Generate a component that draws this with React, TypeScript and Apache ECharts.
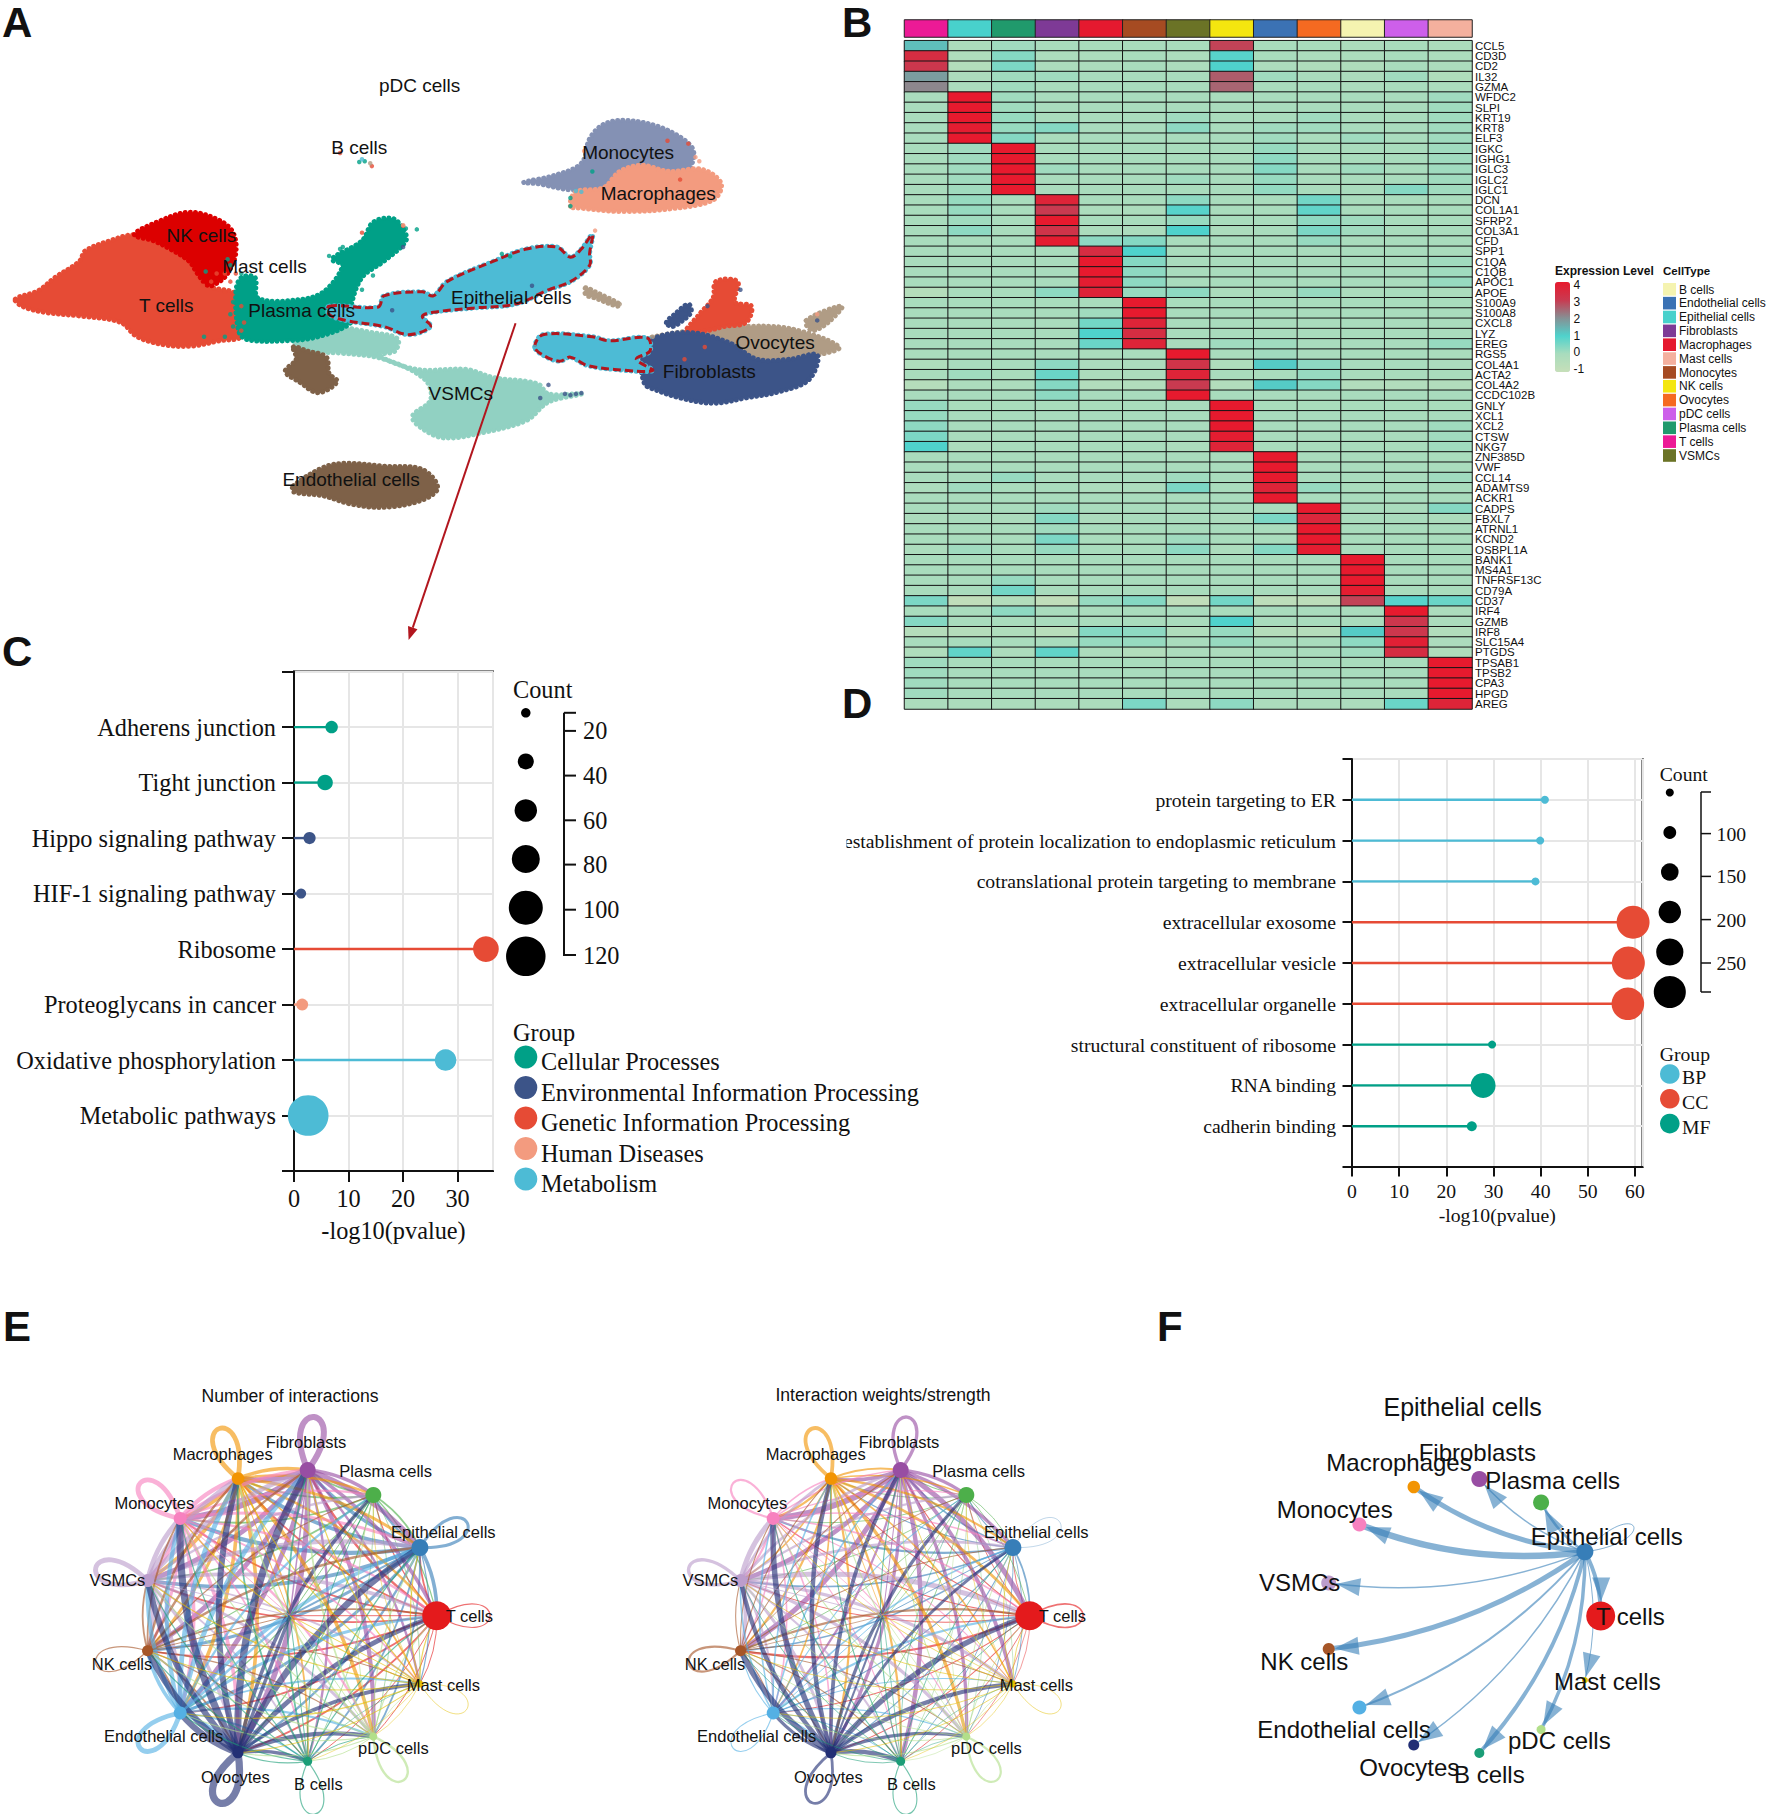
import React, { useEffect, useRef } from "react";
import * as echarts from "echarts";

const SANS = "'Liberation Sans', Arial, sans-serif";
const SERIF = "'Liberation Serif', 'Times New Roman', serif";

/* ---------- Panel A: UMAP clusters, outlines ---------- */
type P = [number, number];
const umapTCells: P[] = [[28,733],[70,712],[100,680],[145,640],[155,615],[200,590],[245,575],[290,590],[330,620],[365,660],[380,700],[430,720],[445,780],[440,825],[400,835],[350,848],[300,845],[250,825],[220,790],[150,775],[80,765],[40,750]];
const umapNK: P[] = [[245,575],[285,545],[345,520],[400,540],[425,570],[430,620],[415,670],[400,690],[380,700],[360,670],[345,640],[310,610],[280,590]];
const umapPlasma: P[] = [[430,715],[440,680],[465,680],[470,730],[540,735],[590,715],[625,650],[605,635],[660,590],[680,545],[715,535],[735,560],[740,590],[700,640],[660,680],[640,750],[640,790],[580,825],[520,835],[450,832],[435,810]];
const umapVSMC: P[] = [[540,810],[600,800],[680,815],[725,830],[720,860],[690,870],[760,905],[850,905],[900,925],[980,940],[1000,965],[1060,965],[1000,985],[960,1030],[880,1060],[810,1073],[770,1050],[752,1020],[785,980],[775,930],[700,880],[620,865],[560,860],[535,835]];
const umapBrownSmall: P[] = [[535,850],[560,860],[595,875],[600,915],[615,935],[580,962],[545,935],[520,910],[540,880]];
const umapEndothelial: P[] = [[535,1190],[590,1145],[630,1135],[700,1142],[770,1150],[798,1195],[770,1225],[700,1243],[640,1235],[590,1215],[535,1205]];
const umapMono: P[] = [[955,447],[1010,430],[1060,400],[1075,340],[1100,305],[1140,295],[1200,310],[1250,345],[1265,375],[1250,420],[1130,430],[1090,460],[1040,465],[980,450]];
const umapMacro: P[] = [[1040,505],[1050,470],[1100,460],[1130,420],[1170,405],[1220,420],[1280,415],[1315,450],[1300,490],[1220,512],[1130,518],[1060,510]];
const umapEpiMain: P[] = [[600,750],[690,752],[700,725],[770,715],[790,725],[815,690],[900,640],[960,610],[1015,605],[1040,630],[1060,610],[1080,575],[1075,620],[1075,650],[1040,690],[1000,710],[940,745],[860,755],[790,765],[770,775],[785,800],[745,820],[700,800],[630,785],[600,770]];
const umapEpiRight: P[] = [[975,850],[990,820],[1080,825],[1110,835],[1180,828],[1185,860],[1160,880],[1190,908],[1120,905],[1070,895],[1040,875],[1020,885],[990,870]];
const umapFibro: P[] = [[1170,870],[1190,830],[1260,815],[1330,840],[1380,880],[1440,880],[1490,870],[1475,930],[1420,960],[1360,975],[1300,988],[1240,975],[1195,955],[1175,940]];
const umapFibroTop: P[] = [[1215,790],[1230,770],[1255,745],[1260,765],[1240,790],[1225,800]];
const umapOvo: P[] = [[1180,830],[1260,810],[1350,800],[1440,805],[1530,850],[1490,870],[1430,880],[1380,878],[1330,845],[1270,820],[1200,840]];
const umapOvoTail: P[] = [[1470,785],[1535,750],[1510,790],[1480,810]];
const umapOvoLeft: P[] = [[1068,705],[1085,715],[1130,745],[1125,750],[1085,730],[1068,722]];
const umapTTop: P[] = [[1250,815],[1275,770],[1300,730],[1305,690],[1345,690],[1340,740],[1370,750],[1360,790],[1320,800],[1290,810]];
const strayPlasma: P[] = [[620,610],[640,615],[600,627],[625,605],[650,600],[740,560],[760,562],[665,395],[655,397],[915,622],[930,628],[1040,485],[1040,505],[1080,420],[680,675],[660,710],[420,650],[440,670],[450,685],[375,665],[415,635],[425,740],[420,770],[425,800],[410,825],[372,825]];
const strayT: P[] = [[620,375],[678,407],[1217,345],[1255,352],[660,570],[735,553],[1240,440],[1248,880],[1285,850],[370,700],[385,690],[395,670],[410,670],[420,690],[410,715],[430,670],[440,750],[445,790],[440,810]];
const strayFibro: P[] = [[735,605],[970,700],[1000,943],[985,975],[1030,965],[1060,963],[1050,965],[1040,968],[1235,775],[1225,785],[1250,760],[1290,750],[1350,710],[1490,785],[715,760]];
const strayOvo: P[] = [[1130,745],[675,400],[1190,825]];
const strayMacro: P[] = [[1085,565],[1065,370],[1268,385],[1275,395],[735,552],[1490,770]];
const strayEpi: P[] = [[1060,470],[1050,468],[975,850],[660,390]];
const arrowA: P[] = [[940,792],[745,1568]];
const umapLabels: [string, number, number][] = [["pDC cells",765,210],["B cells",655,362],["Monocytes",1145,373],["Macrophages",1200,473],["NK cells",367,577],["Mast cells",482,654],["T cells",303,748],["Plasma cells",550,760],["Epithelial cells",932,728],["Ovocytes",1413,838],["Fibroblasts",1293,910],["VSMCs",840,965],["Endothelial cells",640,1174]];

/* ---------- Panel B: heatmap ---------- */
const heatCols = ["T cells","Epithelial cells","Plasma cells","Fibroblasts","Macrophages","Monocytes","VSMCs","NK cells","Endothelial cells","Ovocytes","B cells","pDC cells","Mast cells"];
const heatColColors = ["#EC1A96","#48D1CC","#209A6C","#7E3A96","#E5192F","#A64B22","#6B7326","#F4E60F","#3B72B4","#F56A21","#F5F3B0","#CD5FEA","#F4B09E"];
const genes = ["CCL5","CD3D","CD2","IL32","GZMA","WFDC2","SLPI","KRT19","KRT8","ELF3","IGKC","IGHG1","IGLC3","IGLC2","IGLC1","DCN","COL1A1","SFRP2","COL3A1","CFD","SPP1","C1QA","C1QB","APOC1","APOE","S100A9","S100A8","CXCL8","LYZ","EREG","RGS5","COL4A1","ACTA2","COL4A2","CCDC102B","GNLY","XCL1","XCL2","CTSW","NKG7","ZNF385D","VWF","CCL14","ADAMTS9","ACKR1","CADPS","FBXL7","ATRNL1","KCND2","OSBPL1A","BANK1","MS4A1","TNFRSF13C","CD79A","CD37","IRF4","GZMB","IRF8","SLC15A4","PTGDS","TPSAB1","TPSB2","CPA3","HPGD","AREG"];
const expression: number[][] = [
[1.3,-.1,.1,0,0,0,0,2.9,0,0,-.1,0,-.1],
[3.4,-.2,.4,-.1,-.1,0,-.1,.9,0,-.1,-.1,0,-.1],
[3.1,-.3,.5,-.1,-.1,0,-.1,1,-.1,-.2,-.2,0,-.1],
[1.8,-.1,.1,.1,0,0,0,2.6,.1,0,-.1,.1,-.2],
[2.1,-.1,.1,0,0,0,0,2.5,0,0,-.1,0,-.1],
[0,4,.1,0,0,0,0,0,0,0,0,0,.1],
[0,4,.1,0,0,0,0,0,0,0,0,0,.1],
[0,4,.2,0,0,0,.1,0,0,.1,0,0,.1],
[0,3.9,.2,.4,0,0,.3,0,.1,.1,0,0,.1],
[0,4,.4,0,0,0,0,0,.1,0,.1,0,.1],
[0,.1,4,0,0,0,0,0,.2,0,0,0,.1],
[0,.1,4,0,0,0,0,0,.3,0,0,0,.1],
[0,.1,4,.1,0,0,0,0,.4,0,.1,0,.1],
[0,.1,4,0,0,0,.1,0,.2,0,0,0,.1],
[0,.1,4,0,0,0,0,0,.25,0,0,.4,.1],
[0,.2,0,3.7,0,0,.3,0,0,.6,0,0,0],
[0,.2,0,3,-.1,-.1,.9,0,0,.8,0,0,0],
[0,.1,0,4,0,0,.2,0,0,.3,.1,0,0],
[0,.3,0,3.2,-.1,-.1,1,-.1,0,.5,.1,0,0],
[0,0,0,3.9,.3,.4,0,0,0,.2,0,0,0],
[0,0,0,0,3.4,1,0,0,0,0,0,0,0],
[0,0,0,0,4,.4,0,0,0,0,0,0,.1],
[0,0,0,0,4,.3,0,0,0,0,0,0,.1],
[0,0,0,0,3.9,.3,0,0,0,0,0,0,.2],
[-.4,0,0,.3,3.7,.2,.3,-.1,0,.2,-.1,0,-.1],
[0,0,0,0,0,4,0,0,0,0,0,0,0],
[0,0,0,0,.1,4,0,0,0,0,0,0,0],
[0,0,0,0,.6,3.7,0,0,0,0,0,0,0],
[0,0,0,0,1,3.4,0,0,0,0,0,0,0],
[0,0,0,0,.7,3.7,0,.1,.1,0,0,0,.2],
[0,0,0,0,0,0,4,0,.1,0,0,0,0],
[-.2,0,0,.3,-.1,-.1,3.2,-.2,1.1,.3,0,0,-.1],
[0,.1,0,.7,-.1,-.1,3.7,0,0,.2,0,0,0],
[-.4,-.1,-.1,.4,-.3,-.3,3,-.3,1.1,.4,-.3,-.3,-.3],
[0,0,0,.3,0,0,4,0,0,0,0,0,0],
[.2,0,0,0,0,0,0,4,0,0,0,0,0],
[.2,0,0,0,0,0,0,4,0,0,0,0,0],
[.3,0,0,0,0,0,0,4,0,0,0,0,.1],
[.5,0,0,0,0,0,0,3.9,0,0,0,0,.1],
[1,-.1,0,0,0,0,-.1,3.7,0,0,0,0,.1],
[0,0,0,0,0,0,0,0,4,0,0,0,0],
[0,0,0,0,0,0,0,0,4,0,0,0,0],
[0,0,.2,0,0,0,.1,0,4,0,0,0,.1],
[-.1,.1,0,0,-.1,-.1,.5,0,3.7,.2,0,0,0],
[0,0,0,0,0,0,0,0,4,0,0,0,0],
[0,0,0,.1,0,0,0,0,0,4,0,0,.4],
[-.1,0,-.1,.4,-.1,0,0,-.1,.5,3.6,0,0,-.1],
[0,0,0,.1,0,0,0,0,0,4,0,0,0],
[0,0,0,.5,0,0,.1,0,0,4,0,0,0],
[-.1,.1,0,.2,0,0,.3,-.1,.4,3.9,0,0,0],
[0,0,0,0,0,0,0,0,0,0,4,0,0],
[0,0,0,0,0,0,0,0,0,0,4,0,0],
[0,0,.2,0,0,0,0,0,0,0,4,0,0],
[0,0,.6,0,0,0,0,0,0,0,3.9,0,0],
[.5,-.8,-.3,-.8,.2,.4,-.8,.6,-.7,-.7,2.9,.9,.7],
[0,0,.3,0,0,0,0,0,0,0,0,4,-.1],
[.4,0,0,0,0,0,0,1,0,0,0,3.1,-.1],
[-.4,-.4,-.2,-.5,.4,.3,-.2,.2,-.4,-.4,1.1,3.1,-.3],
[0,0,0,0,.2,.2,0,.2,0,0,.3,3.8,-.1],
[-.2,.8,-.1,.8,-.1,-.3,-.1,-.1,0,0,.1,3.4,-.2],
[.1,0,0,0,0,0,0,0,0,0,0,0,4],
[.1,0,0,0,0,0,0,0,0,0,0,0,4],
[.1,0,0,0,0,0,0,0,0,0,0,0,4],
[.1,0,0,0,0,0,0,0,0,0,0,0,4],
[-.1,-.1,-.1,-.1,-.1,.5,-.1,.3,-.1,-.1,-.1,.7,3.7],
];
const expressionTicks = [4,3,2,1,0,-1];
const heatStops = ["#C6DFB9","#A9DCBD","#4FD2CC","#869094","#C93A50","#E71A2E"];
const cellTypeLegend = ["B cells","Endothelial cells","Epithelial cells","Fibroblasts","Macrophages","Mast cells","Monocytes","NK cells","Ovocytes","pDC cells","Plasma cells","T cells","VSMCs"];
const cellTypeColors = ["#F5F3B0","#3B72B4","#48D1CC","#7E3A96","#E5192F","#F4B09E","#A64B22","#F4E60F","#F56A21","#CD5FEA","#209A6C","#EC1A96","#6B7326"];

/* ---------- Panel C ---------- */
const cNames = ["Adherens junction","Tight junction","Hippo signaling pathway","HIF-1 signaling pathway","Ribosome","Proteoglycans in cancer","Oxidative phosphorylation","Metabolic pathways"];
const cValues = [6.9,5.7,2.85,1.3,35.2,1.5,27.8,2.6];
const cCounts = [30,40,29,22,74,28,60,124];
const cGroupOf = [0,0,1,1,2,3,4,4];
const cGroups = ["Cellular Processes","Environmental Information Processing","Genetic Information Processing","Human Diseases","Metabolism"];
const cGroupColors = ["#00A087","#3C5488","#E64B35","#F39B7F","#4DBBD5"];
const cCountTicks = [20,40,60,80,100,120];

/* ---------- Panel D ---------- */
const dNames = ["protein targeting to ER","establishment of protein localization to endoplasmic reticulum","cotranslational protein targeting to membrane","extracellular exosome","extracellular vesicle","extracellular organelle","structural constituent of ribosome","RNA binding","cadherin binding"];
const dValues = [40.9,39.9,38.9,59.6,58.6,58.5,29.7,27.8,25.4];
const dCounts = [52,52,52,292,292,288,52,215,71];
const dGroupOf = [0,0,0,1,1,1,2,2,2];
const dGroups = ["BP","CC","MF"];
const dGroupColors = ["#4DBBD5","#E64B35","#00A087"];
const dCountTicks = [100,150,200,250];
const dLegendCounts = [52,98,144,191,237,283];

/* ---------- Panels E, F ---------- */
const netNames = ["T cells","Epithelial cells","Plasma cells","Fibroblasts","Macrophages","Monocytes","VSMCs","NK cells","Endothelial cells","Ovocytes","B cells","pDC cells","Mast cells"];
const netColors = ["#E41A1C","#377EB8","#4DAF4A","#984EA3","#F29403","#F781BF","#BC9DCC","#A65628","#54B0E4","#222F75","#1B9E77","#B2DF8A","#E3BE00"];
const netSizesE = [29,17,16,16,12.5,13,13,11,13,11,9,8,7];
const netSizesF = [29,17,16,16,12.5,14,15,12,14,11,10,9,6];
const interactionCounts: number[][] = [
[1.2,1.8,1.2,2.4,1.8,1.8,1.8,1.8,1.8,1.8,1,1,1],
[3.6,3,2.4,3.6,3.6,4.2,3.6,3,3,2.4,1.8,1.8,1.2],
[1.2,1.8,0,1.8,1.8,1.8,1.8,1.2,1.2,1.2,.7,.7,.7],
[3.6,4.8,3.6,6,5.4,6,4.8,4.8,4.8,5.4,2.4,4.2,2.4],
[2.4,3,2.4,3.6,4.8,3.6,3.6,3,3.6,3.6,1.8,3.6,1.8],
[2.4,3,2.4,3.6,4.2,4.8,3.6,3,3.6,3.6,1.8,2.4,1.8],
[3.6,4.2,2.4,4.8,4.8,4.8,4.8,3.6,3.6,3.6,1.8,3,1.8],
[1.8,2.4,1.2,2.4,2.4,1.8,1.8,1.2,1.8,1.8,1.2,1.2,1],
[3,3.6,2.4,4.8,4.8,4.2,4.2,3.6,4.8,3.6,1.8,2.4,1.8],
[4.8,6.6,3.6,7.2,6,7.2,6,6,6,7.2,3.6,4.2,3.6],
[1.2,1.2,1,1.8,1.8,1.2,1.2,1.2,1.2,1.2,1.2,1,.7],
[1.2,1.2,1,1.8,1.8,1.2,1.2,1.2,1.2,1.2,1,2.4,.7],
[1.2,1.2,.7,1.2,1.2,1.2,1.2,1.2,1.2,1.2,.7,.7,.8],
];
const interactionWeights: number[][] = [
[1.6,.9,.9,1.1,1.1,1.1,1.1,2.2,1.1,1.1,.9,.7,.7],
[1.6,.5,1.1,1.6,1.1,2.2,1.6,1.6,1.1,1.1,.9,.9,.9],
[.9,.9,0,1.1,.9,.9,.9,.9,.7,.9,.5,.5,.5],
[5,3.3,3.3,3.3,3.8,6,4.4,5,2.2,3.3,4.4,3.3,3.8],
[2.8,2.2,1.6,2.2,3.8,2.2,1.6,2.2,1.6,2.2,2.2,3.3,1.6],
[1.6,1.6,1.1,1.6,1.6,2.2,2.2,1.6,1.6,1.6,1.1,1.1,1.1],
[5,2.8,2.2,2.8,2.8,5,3.3,3.8,2.2,2.8,2.2,3.3,3.3],
[2.2,1.1,.9,1.1,1.1,1.1,1.1,2.2,1.1,1.1,1.1,1.1,1.1],
[2.2,1.6,1.1,1.6,1.6,1.6,1.6,1.1,1.1,1.6,1.1,1.1,1.1],
[5.5,2.8,3.3,3.8,4.4,5.5,4.4,5.5,3.3,2.8,4.4,3.3,4.4],
[.9,.9,.7,1.1,1.1,1.1,.9,.9,.9,.9,1.1,.7,.7],
[.9,.9,.7,1.1,1.1,1.1,.9,.9,.9,1.1,.7,2.2,.7],
[.9,.9,.7,.9,.9,.9,.9,.9,.9,.9,.7,.7,.8],
];
const hubCounts = [1,2,1,1.5,1,1,1,1,2.5,3.5,1,1,1];
const hubWeights = [1,1,.8,1,.8,.8,1,.8,1,2,.8,.8,.8];
const epithelialOut = [4,1,2.5,1.5,5,6.5,1.5,5,2,1.5,4,3.5,1];

/* ---------- helpers ---------- */
const unit = (i: number): P => [Math.cos((i * 2 * Math.PI) / 13), Math.sin((i * 2 * Math.PI) / 13)];

const txt = (text: string, x: number, y: number, size: number, family = SANS, align = "center", weight = "normal", fill = "#111") => ({
  type: "text", x, y, z: 100, silent: true,
  style: { text, fontSize: size, fontFamily: family, fontWeight: weight, fill, align, verticalAlign: "middle", textAlign: align, textVerticalAlign: "middle" },
});
const seg = (x1: number, y1: number, x2: number, y2: number, w = 2) => ({
  type: "line", z: 100, silent: true, shape: { x1, y1, x2, y2 }, style: { stroke: "#111", lineWidth: w },
});
const dot = (cx: number, cy: number, d: number, fill: string) => ({
  type: "circle", z: 100, silent: true, shape: { cx, cy, r: d / 2 }, style: { fill },
});

const blob = (pts: P[], color: string) => ({
  type: "custom", coordinateSystem: "cartesian2d", xAxisIndex: 0, yAxisIndex: 0, silent: true,
  data: pts, encode: { x: 0, y: 1 },
  renderItem: (p: any, api: any) =>
    p.dataIndex !== 0 ? null : {
      type: "polygon",
      shape: { points: pts.map((v) => api.coord(v)), smooth: 0.35 },
      style: { fill: color, stroke: color, lineWidth: 5, lineDash: [0.1, 5], lineCap: "round" },
    },
});
const dashOutline = (pts: P[]) => ({
  type: "custom", coordinateSystem: "cartesian2d", xAxisIndex: 0, yAxisIndex: 0, silent: true,
  data: pts, encode: { x: 0, y: 1 },
  renderItem: (p: any, api: any) =>
    p.dataIndex !== 0 ? null : {
      type: "polygon",
      shape: { points: pts.map((v) => api.coord(v)), smooth: 0.35 },
      style: { fill: "none", stroke: "#B2161E", lineWidth: 3, lineDash: [8, 4] },
    },
});
const strays = (pts: P[], color: string) => ({
  type: "scatter", xAxisIndex: 0, yAxisIndex: 0, data: pts, symbolSize: 4.5, silent: true, itemStyle: { color },
});

const hiddenVal = (gridIndex: number, min: number, max: number, inverse = false) => ({ type: "value", gridIndex, min, max, inverse, show: false });

function edgeSeries(gridIdx: number, matrix: number[][], hub: number[], loopLen: number) {
  const data: number[][] = [];
  matrix.forEach((row, i) => row.forEach((w, j) => { if (w > 0) data.push([i, j, w]); }));
  hub.forEach((w, i) => data.push([i, -1, w]));
  return {
    type: "custom", coordinateSystem: "cartesian2d", xAxisIndex: gridIdx, yAxisIndex: gridIdx, silent: true, data, z: 2,
    renderItem: (_p: any, api: any) => {
      const i = api.value(0), j = api.value(1), w = api.value(2);
      const a = api.coord(unit(i));
      const style = { stroke: netColors[i], fill: "none", lineWidth: w, opacity: 0.62 };
      if (j < 0) {
        const c = api.coord([0, 0]);
        return { type: "line", shape: { x1: a[0], y1: a[1], x2: c[0], y2: c[1] }, style };
      }
      if (i === j) {
        const c = api.coord([0, 0]);
        const ang = Math.atan2(a[1] - c[1], a[0] - c[0]);
        return {
          type: "bezierCurve",
          shape: {
            x1: a[0], y1: a[1], x2: a[0], y2: a[1],
            cpx1: a[0] + loopLen * Math.cos(ang - 0.52), cpy1: a[1] + loopLen * Math.sin(ang - 0.52),
            cpx2: a[0] + loopLen * Math.cos(ang + 0.52), cpy2: a[1] + loopLen * Math.sin(ang + 0.52),
          },
          style,
        };
      }
      const b = api.coord(unit(j));
      const dx = b[0] - a[0], dy = b[1] - a[1];
      const mx = (a[0] + b[0]) / 2 + dy * 0.14, my = (a[1] + b[1]) / 2 - dx * 0.14;
      return { type: "bezierCurve", shape: { x1: a[0], y1: a[1], x2: b[0], y2: b[1], cpx1: mx, cpy1: my }, style };
    },
  };
}
function nodeSeries(gridIdx: number, sizes: number[]) {
  return {
    type: "scatter", xAxisIndex: gridIdx, yAxisIndex: gridIdx, silent: true, z: 5,
    symbolSize: (v: number[]) => v[2],
    data: netNames.map((n, i) => ({ name: n, value: [...unit(i), sizes[i]], itemStyle: { color: netColors[i], opacity: 1 } })),
  };
}
function outSeries(gridIdx: number) {
  const from = 1, col = "#377EB8";
  return {
    type: "custom", coordinateSystem: "cartesian2d", xAxisIndex: gridIdx, yAxisIndex: gridIdx, silent: true, z: 3,
    data: epithelialOut.map((w, j) => [j, w]),
    renderItem: (_p: any, api: any) => {
      const j = api.value(0), w = api.value(1);
      const a = api.coord(unit(from));
      const style = { stroke: col, fill: "none", lineWidth: w, opacity: 0.6 };
      if (j === from) {
        const c = api.coord([0, 0]);
        const ang = Math.atan2(a[1] - c[1], a[0] - c[0]);
        return {
          type: "bezierCurve",
          shape: {
            x1: a[0], y1: a[1], x2: a[0], y2: a[1],
            cpx1: a[0] + 78 * Math.cos(ang - 0.35), cpy1: a[1] + 78 * Math.sin(ang - 0.35),
            cpx2: a[0] + 78 * Math.cos(ang + 0.35), cpy2: a[1] + 78 * Math.sin(ang + 0.35),
          },
          style,
        };
      }
      const b = api.coord(unit(j));
      const dx = b[0] - a[0], dy = b[1] - a[1];
      const cx = (a[0] + b[0]) / 2 + dy * 0.13, cy = (a[1] + b[1]) / 2 - dx * 0.13;
      const tx = b[0] - cx, ty = b[1] - cy, tl = Math.hypot(tx, ty);
      const ux = tx / tl, uy = ty / tl;
      const r = netSizesF[j] / 2;
      const tip = [b[0] - ux * r, b[1] - uy * r];
      const base = [tip[0] - ux * 24, tip[1] - uy * 24];
      return {
        type: "group",
        children: [
          { type: "bezierCurve", shape: { x1: a[0], y1: a[1], x2: b[0], y2: b[1], cpx1: cx, cpy1: cy }, style },
          { type: "polygon", shape: { points: [tip, [base[0] - uy * 9, base[1] + ux * 9], [base[0] + uy * 9, base[1] - ux * 9]] }, style: { fill: col, opacity: 0.6 } },
        ],
      };
    },
  };
}

function lollipop(gridIdx: number, names: string[], vals: number[], counts: number[], groupOf: number[], colors: string[], sizeFn: (c: number) => number) {
  return [
    {
      type: "bar", xAxisIndex: gridIdx, yAxisIndex: gridIdx, barWidth: 2.4, silent: true, z: 3,
      data: [null, ...vals.map((v, i) => ({ value: v, itemStyle: { color: colors[groupOf[i]] } })), null],
    },
    {
      type: "scatter", xAxisIndex: gridIdx, yAxisIndex: gridIdx, silent: true, z: 4, clip: false,
      symbolSize: (v: number[]) => sizeFn(v[2]),
      data: vals.map((v, i) => ({ value: [v, i + 1, counts[i]], itemStyle: { color: colors[groupOf[i]], opacity: 1 } })),
    },
  ];
}
const catAxis = (gridIndex: number, names: string[], font: number, tick: number, margin: number) => ({
  type: "category", gridIndex, data: ["", ...names, ""], inverse: true, boundaryGap: false,
  axisLine: { onZero: false, lineStyle: { color: "#111", width: 2 } },
  axisTick: { show: true, interval: 0, length: tick, lineStyle: { color: "#111", width: 2 } },
  axisLabel: { interval: 0, fontFamily: SERIF, fontSize: font, color: "#111", margin, hideOverlap: false },
  splitLine: { show: true, interval: 0, lineStyle: { color: "#E6E6E6", width: 2 } },
});
const valAxis = (gridIndex: number, max: number, font: number, tick: number, margin: number, nameGap: number) => ({
  type: "value", gridIndex, min: 0, max, interval: 10,
  name: "-log10(pvalue)", nameLocation: "middle", nameGap,
  nameTextStyle: { fontFamily: SERIF, fontSize: font, color: "#111" },
  axisLine: { show: true, onZero: false, lineStyle: { color: "#111", width: 2 } },
  axisTick: { show: true, length: tick, lineStyle: { color: "#111", width: 2 } },
  axisLabel: { fontFamily: SERIF, fontSize: font, color: "#111", margin, showMaxLabel: false },
  splitLine: { show: true, lineStyle: { color: "#E6E6E6", width: 2 } },
});

function buildOption(): any {
  const heatData: any[] = [];
  expression.forEach((row, y) => row.forEach((v, x) => heatData.push([x, y, v])));
  const barData = heatCols.map((_, x) => [x, 0, x]);

  const grids = [
    { left: 0, top: 0, width: 860, height: 640 },
    { left: 904.5, top: 20, width: 567.5, height: 17 },
    { left: 904.5, top: 40.7, width: 567.5, height: 668.3 },
    { left: 294, top: 671.6, width: 199, height: 499.4, show: true, borderColor: "#111", borderWidth: 2 },
    { left: 1352, top: 759, width: 290.5, height: 408, show: true, borderColor: "#111", borderWidth: 2 },
    { left: 290 - 146.7, top: 1615.7 - 146.7, width: 293.4, height: 293.4 },
    { left: 883 - 146.7, top: 1615.7 - 146.7, width: 293.4, height: 293.4 },
    { left: 1462.7 - 138, top: 1616 - 138, width: 276, height: 276 },
  ];
  const xAxis = [
    hiddenVal(0, 0, 1568),
    { type: "category", gridIndex: 1, data: heatCols, show: false },
    { type: "category", gridIndex: 2, data: heatCols, show: false },
    valAxis(3, 36.5, 24.3, 11, 15, 47),
    valAxis(4, 61.6, 19.7, 9.5, 13.7, 38),
    hiddenVal(5, -1, 1),
    hiddenVal(6, -1, 1),
    hiddenVal(7, -1, 1),
  ];
  const yAxis = [
    hiddenVal(0, 0, 1568, true),
    { type: "category", gridIndex: 1, data: ["CellType"], show: false },
    {
      type: "category", gridIndex: 2, data: genes, inverse: true, position: "right",
      axisLine: { show: false }, axisTick: { show: false },
      axisLabel: { interval: 0, fontSize: 11.5, fontFamily: SANS, color: "#111", margin: 3 },
    },
    catAxis(3, cNames, 24.3, 12, 18),
    catAxis(4, dNames, 19.7, 9.5, 16),
    hiddenVal(5, -1, 1),
    hiddenVal(6, -1, 1),
    hiddenVal(7, -1, 1),
  ];

  const series: any[] = [
    blob(umapVSMC, "#91D1C2"),
    blob(umapBrownSmall, "#7E6148"),
    blob(umapTCells, "#E64B35"),
    blob(umapNK, "#DC0000"),
    blob(umapPlasma, "#00A087"),
    blob(umapEndothelial, "#7E6148"),
    blob(umapMono, "#8491B4"),
    blob(umapMacro, "#F39B7F"),
    blob(umapOvo, "#B09C85"),
    blob(umapOvoTail, "#B09C85"),
    blob(umapOvoLeft, "#B09C85"),
    blob(umapTTop, "#E64B35"),
    blob(umapFibroTop, "#3C5488"),
    blob(umapFibro, "#3C5488"),
    blob(umapEpiMain, "#4DBBD5"),
    blob(umapEpiRight, "#4DBBD5"),
    strays(strayPlasma, "#00A087"),
    strays(strayT, "#E64B35"),
    strays(strayFibro, "#3C5488"),
    strays(strayOvo, "#B09C85"),
    strays(strayMacro, "#F39B7F"),
    strays(strayEpi, "#4DBBD5"),
    dashOutline(umapEpiMain),
    dashOutline(umapEpiRight),
    {
      type: "custom", coordinateSystem: "cartesian2d", xAxisIndex: 0, yAxisIndex: 0, silent: true, z: 6,
      data: arrowA, encode: { x: 0, y: 1 },
      renderItem: (p: any, api: any) => {
        if (p.dataIndex !== 0) return null;
        const a = api.coord(arrowA[0]), b = api.coord(arrowA[1]);
        const l = Math.hypot(b[0] - a[0], b[1] - a[1]);
        const ux = (b[0] - a[0]) / l, uy = (b[1] - a[1]) / l;
        const bx = b[0] - ux * 13, by = b[1] - uy * 13;
        return {
          type: "group",
          children: [
            { type: "line", shape: { x1: a[0], y1: a[1], x2: bx, y2: by }, style: { stroke: "#B2161E", lineWidth: 2 } },
            { type: "polygon", shape: { points: [b, [bx - uy * 5, by + ux * 5], [bx + uy * 5, by - ux * 5]] }, style: { fill: "#B2161E" } },
          ],
        };
      },
    },
  ];
  const barIndex = series.length;
  series.push({
    type: "heatmap", xAxisIndex: 1, yAxisIndex: 1, data: barData, silent: true,
    itemStyle: { borderColor: "#222", borderWidth: 1 },
  });
  const heatIndex = series.length;
  series.push({
    type: "heatmap", xAxisIndex: 2, yAxisIndex: 2, data: heatData, silent: true,
    itemStyle: { borderColor: "#151515", borderWidth: 1 },
  });
  series.push(...lollipop(3, cNames, cValues, cCounts, cGroupOf, cGroupColors, (c) => 3.5 + 0.3 * c));
  series.push(...lollipop(4, dNames, dValues, dCounts, dGroupOf, dGroupColors, (c) => 2.6 + 0.104 * c));
  series.push(edgeSeries(5, interactionCounts, hubCounts, 82), nodeSeries(5, netSizesE));
  series.push(edgeSeries(6, interactionWeights, hubWeights, 82), nodeSeries(6, netSizesE));
  series.push(outSeries(7), nodeSeries(7, netSizesF));

  const g: any[] = [];
  ([["A", 2, 22], ["B", 842, 22], ["C", 2, 651], ["D", 842, 703], ["E", 3, 1326], ["F", 1157, 1326]] as [string, number, number][])
    .forEach(([t, x, y]) => g.push(txt(t, x, y, 42, SANS, "left", "bold")));
  umapLabels.forEach(([t, x, y]) => g.push(txt(t, x / 1.823, y / 2.45, 19)));
  g.push(txt("Expression Level", 1555, 271, 12, SANS, "left", "bold"));
  g.push(txt("CellType", 1663, 271, 11.5, SANS, "left", "bold"));
  expressionTicks.forEach((v, i) => g.push(txt(String(v), 1573.5, 285 + i * 16.85, 12, SANS, "left")));
  cellTypeLegend.forEach((t, i) => {
    g.push({ type: "rect", z: 100, silent: true, shape: { x: 1663, y: 283 + i * 13.85, width: 13, height: 12.6 }, style: { fill: cellTypeColors[i] } });
    g.push(txt(t, 1679, 289.5 + i * 13.85, 12, SANS, "left"));
  });
  // the reference cuts the first letter of the long label in panel D at the panel's edge
  g.push({ type: "rect", z: 100, silent: true, shape: { x: 826, y: 828, width: 20.5, height: 26 }, style: { fill: "#fff" } });
  g.push(txt("Count", 513, 689, 24.3, SERIF, "left"));
  const cDotY = [712.8, 761.4, 810.4, 859, 907.7, 956.3];
  const cDotD = [9.5, 16, 22.5, 28, 34, 39.5];
  const cTickY = [730.9, 775.6, 820.3, 864.6, 909.7, 955];
  cCountTicks.forEach((v, i) => {
    g.push(dot(525.8, cDotY[i], cDotD[i], "#000"));
    g.push(seg(564, cTickY[i], 576, cTickY[i]));
    g.push(txt(String(v), 583, cTickY[i], 24.3, SERIF, "left"));
  });
  g.push(seg(564, 712.8, 564, 956), seg(564, 712.8, 576, 712.8));
  g.push(txt("Group", 513, 1032, 24.3, SERIF, "left"));
  cGroups.forEach((t, i) => {
    const y = 1057 + i * 30.5;
    g.push(dot(525.8, y, 23, cGroupColors[i]));
    g.push(txt(t, 541, y + 4.5, 24.3, SERIF, "left"));
  });
  g.push(txt("Count", 1659.7, 774, 19.7, SERIF, "left"));
  const dDotY = [792.5, 832.5, 872, 912, 952, 992];
  dLegendCounts.forEach((c, i) => g.push(dot(1669.8, dDotY[i], 2.6 + 0.104 * c, "#000")));
  const dTickY = [833.6, 876.4, 919.6, 963];
  dCountTicks.forEach((v, i) => {
    g.push(seg(1701, dTickY[i], 1711, dTickY[i], 1.5));
    g.push(txt(String(v), 1716.6, dTickY[i], 19.7, SERIF, "left"));
  });
  g.push(seg(1701, 792, 1701, 992, 1.5), seg(1701, 792, 1711, 792, 1.5), seg(1701, 992, 1711, 992, 1.5));
  g.push(txt("Group", 1659.7, 1053.6, 19.7, SERIF, "left"));
  dGroups.forEach((t, i) => {
    const y = 1074 + i * 24.8;
    g.push(dot(1669.8, y, 19.6, dGroupColors[i]));
    g.push(txt(t, 1682, y + 3, 19.7, SERIF, "left"));
  });
  const eLabelPos: [number, number][] = [[1228,768],[1150,516],[977,333],[738,247],[488,283],[283,430],[172,660],[186,912],[311,1128],[526,1252],[775,1272],[1000,1165],[1150,975]];
  netNames.forEach((t, i) => {
    const [zx, zy] = eLabelPos[i];
    g.push(txt(t, 60 + zx / 3, 1360 + zy / 3, 16.5));
    g.push(txt(t, 653 + zx / 3, 1360 + zy / 3, 16.5));
  });
  g.push(txt("Number of interactions", 290, 1396, 17.6));
  g.push(txt("Interaction weights/strength", 883, 1394.5, 17.6));
  g.push(txt("Epithelial cells", 1170 + 878 / 3, 1360 + 140 / 3, 25));
  const fLabelPos: [number, number][] = [[1381,770],[1310,528],[1148,360],[922,278],[687,308],[494,448],[389,668],[403,905],[522,1108],[718,1222],[958,1242],[1168,1140],[1312,963]];
  netNames.forEach((t, i) => {
    const [zx, zy] = fLabelPos[i];
    g.push(txt(t, 1170 + zx / 3, 1360 + zy / 3, 24));
  });

  return {
    animation: false,
    backgroundColor: "#fff",
    grid: grids,
    xAxis,
    yAxis,
    series,
    graphic: { elements: g },
    visualMap: [
      {
        type: "continuous", seriesIndex: heatIndex, min: -1, max: 4, dimension: 2, calculable: false, show: true,
        left: 1555, top: 282, itemWidth: 15, itemHeight: 90, padding: 0, text: null, showLabel: false,
        inRange: { color: heatStops }, textStyle: { fontSize: 1, color: "#fff" },
      },
      {
        type: "piecewise", seriesIndex: barIndex, dimension: 2, show: false,
        pieces: heatColColors.map((c, i) => ({ value: i, color: c })),
      },
    ],
  };
}

export default function App() {
  const ref = useRef<HTMLDivElement>(null);
  useEffect(() => {
    const chart = echarts.init(ref.current!, undefined, { renderer: "svg" });
    chart.setOption(buildOption());
    return () => chart.dispose();
  }, []);
  return <div ref={ref} style={{ position: "absolute", left: 0, top: 0, width: 1770, height: 1814 }} />;
}
